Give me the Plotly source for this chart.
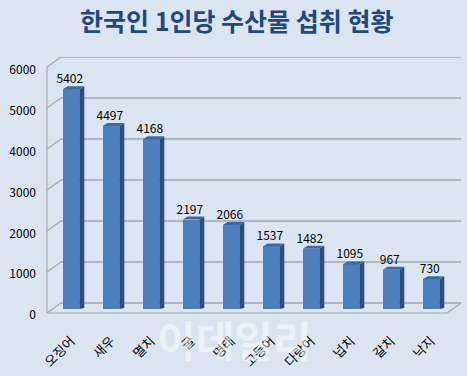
import plotly.graph_objects as go

# ---- data ----
categories = ["오징어", "새우", "멸치", "굴", "명태", "고등어", "다랑어", "넙치", "갈치", "낙지"]
values = [5402, 4497, 4168, 2197, 2066, 1537, 1482, 1095, 967, 730]
tick_values = [0, 1000, 2000, 3000, 4000, 5000, 6000]
title_text = "한국인 1인당 수산물 섭취 현황"
watermark = "이데일리"

W, H = 467, 376
BG = "#dbe5f1"
FONT = "Noto Sans CJK KR"

def px_x(p):
    return p / W

def px_y(p):
    return (H - p) / H

# bar (front-face) axes: 0 at y=309, 40.7 px per 1000
bar_y0, bar_scale = 309, 40.7 / 1000
y_dom = [px_y(bar_y0), px_y(bar_y0 - 6000 * bar_scale)]
x_dom = [px_x(51), px_x(451)]

# back wall axis: 0 at y=303, 41 px per 1000, range starts -400
wall_y0, wall_scale = 303, 41 / 1000
wall_range = [-400, 6000]
y2_dom = [px_y(wall_y0 + 400 * wall_scale), px_y(wall_y0 - 6000 * wall_scale)]
front_shift = 10 / wall_scale  # value units for 10 px

# label axis: 0 at y=315, 6000 at y=70
y3_dom = [px_y(315), px_y(70)]

bw = 0.415          # front face width (category units)
ddx = 5 / 40        # depth offset in x (category units)
ddy = 3 / bar_scale # depth offset in y (value units)

fig = go.Figure()

# front faces
fig.add_trace(go.Bar(
    x=list(range(len(categories))), y=values, width=bw,
    marker=dict(color="#4d80bf", line=dict(width=0)),
    hoverinfo="skip", showlegend=False,
))

# side faces and top faces as polygons derived from values
side_x, side_y, top_x, top_y = [], [], [], []
for i, v in enumerate(values):
    r = i + bw / 2
    l = i - bw / 2
    side_x += [r, r + ddx, r + ddx, r, r, None]
    side_y += [0, ddy * 0.3, v + ddy, v, 0, None]
    top_x += [l, r, r + ddx, l + ddx, l, None]
    top_y += [v, v, v + ddy, v + ddy, v, None]

fig.add_trace(go.Scatter(x=side_x, y=side_y, mode="lines", fill="toself",
                         fillcolor="#2f4f7a", line=dict(width=0, color="#2f4f7a"),
                         hoverinfo="skip", showlegend=False))
fig.add_trace(go.Scatter(x=top_x, y=top_y, mode="lines", fill="toself",
                         fillcolor="#3d69a3", line=dict(width=0, color="#3d69a3"),
                         hoverinfo="skip", showlegend=False))

# value labels
fig.add_trace(go.Scatter(
    x=[i - 0.03 for i in range(len(values))], y=[v + ddy for v in values],
    mode="text", text=[str(v) for v in values], textposition="top center",
    textfont=dict(family=FONT, size=12, color="#000000"),
    hoverinfo="skip", showlegend=False, cliponaxis=False,
))

# helper traces for the wall and label axes
fig.add_trace(go.Scatter(x=[0], y=[0], xaxis="x", yaxis="y3", mode="markers",
                         marker=dict(opacity=0), hoverinfo="skip", showlegend=False))
fig.add_trace(go.Scatter(x=[0], y=[0], xaxis="x", yaxis="y2", mode="markers",
                         marker=dict(opacity=0), hoverinfo="skip", showlegend=False))

shapes = []
grid_col = "#a3a7ac"
xl_back, xr_back = px_x(61), px_x(461)
xl_front, xr_front = px_x(47), px_x(447)
for t in tick_values:
    shapes.append(dict(type="line", xref="paper", yref="y2", x0=xl_back, x1=xr_back,
                       y0=t, y1=t, line=dict(color=grid_col, width=1.6), layer="below"))
    shapes.append(dict(type="line", xref="paper", yref="y2", x0=xl_front, x1=xl_back,
                       y0=t - front_shift, y1=t, line=dict(color=grid_col, width=1.2), layer="below"))
# left front vertical edge
shapes.append(dict(type="line", xref="paper", yref="y2", x0=xl_front, x1=xl_front,
                   y0=-front_shift, y1=tick_values[-1] - front_shift,
                   line=dict(color=grid_col, width=1.2), layer="below"))
# floor front edge and right diagonal
shapes.append(dict(type="line", xref="paper", yref="y2", x0=xl_front, x1=xr_front,
                   y0=-front_shift, y1=-front_shift, line=dict(color=grid_col, width=1.2), layer="below"))
shapes.append(dict(type="line", xref="paper", yref="y2", x0=xr_front, x1=xr_back,
                   y0=-front_shift, y1=0, line=dict(color=grid_col, width=1.2), layer="below"))

fig.update_layout(
    template="none",
    width=W, height=H,
    margin=dict(l=0, r=0, t=0, b=0, autoexpand=False),
    paper_bgcolor=BG, plot_bgcolor="rgba(0,0,0,0)",
    bargap=0,
    shapes=shapes,
    xaxis=dict(domain=x_dom, range=[-0.5, len(categories) - 0.5],
               tickmode="array", tickvals=list(range(len(categories))), ticktext=categories,
               tickangle=-45, showgrid=False, zeroline=False, showline=False, ticks="",
               ticklabelstandoff=21,
               tickfont=dict(family=FONT, size=13, color="#000000"),
               anchor="y", fixedrange=True, automargin=False),
    yaxis=dict(domain=y_dom, range=[0, 6000], visible=False, fixedrange=True, automargin=False),
    yaxis2=dict(domain=y2_dom, range=wall_range, visible=False,
                anchor="x", fixedrange=True, automargin=False),
    yaxis3=dict(domain=y3_dom, range=[0, 6000], tickmode="array", tickvals=tick_values,
                showgrid=False, zeroline=False, showline=False, ticks="",
                tickfont=dict(family=FONT, size=12, color="#000000"),
                anchor="free", position=px_x(36), side="left", fixedrange=True,
                automargin=False),
    annotations=[
        dict(text="<b>" + title_text + "</b>", xref="paper", yref="paper",
             x=px_x(236), y=px_y(20), xanchor="center", yanchor="middle", showarrow=False,
             font=dict(family=FONT, size=25, color="#1f497d")),
        dict(text="<b>" + watermark + "</b>", xref="paper", yref="paper",
             x=px_x(234), y=px_y(338), xanchor="center", yanchor="middle", showarrow=False,
             font=dict(family=FONT, size=42, color="rgba(255,255,255,0.5)")),
    ],
)

fig.write_html("out.html", config={"displayModeBar": False, "staticPlot": True},
               post_script="document.body.style.margin='0';document.body.style.overflow='hidden';")
